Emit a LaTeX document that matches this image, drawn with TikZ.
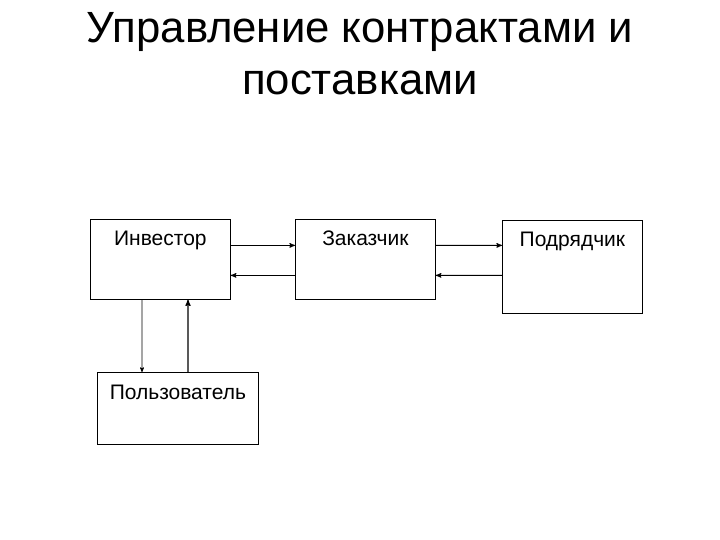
\documentclass[tikz,border=0pt]{standalone}
\usepackage{fontspec}
\setmainfont{Liberation Sans}
\usetikzlibrary{arrows}

\begin{document}
\begin{tikzpicture}[x=1bp,y=-1bp,>=stealth',
    box/.style={draw,line width=0.8pt,inner sep=0pt,anchor=north west,
      minimum width=140bp,text height=26bp,font=\fontsize{21bp}{24bp}\selectfont},
    link/.style={->,line width=1pt}]
  \useasboundingbox (0,0) rectangle (720,540);

  % title
  \node[anchor=north,inner sep=0pt,align=center,
    font=\fontsize{43.7bp}{52bp}\selectfont] (title) at (360,12)
    {Управление контрактами и\\поставками};

  % participants
  \node[box,text depth=54bp] (inv) at (90,219) {Инвестор};
  \node[box,text depth=54bp] (zak) at (295,219) {Заказчик};
  \node[box,text depth=67bp] (pod) at (502,220) {Подрядчик};
  \node[box,text depth=45bp,text height=27bp,minimum width=161bp] (pol) at (97,372) {Пользователь};

  % links
  \draw[link] ([yshift=14bp]inv.east) -- ([yshift=14bp]zak.west);
  \draw[link] ([yshift=-16bp]zak.west) -- ([yshift=-16bp]inv.east);
  \draw[link] ([yshift=14bp]zak.east) -- ([yshift=21.5bp]pod.west);
  \draw[link] ([yshift=-8.5bp]pod.west) -- ([yshift=-16bp]zak.east);
  \draw[link,line width=0.7pt] ([xshift=52bp]inv.south west) -- ([xshift=45bp]pol.north west);
  \draw[link,line width=1.2pt] ([xshift=91bp]pol.north west) -- ([xshift=98bp]inv.south west);
\end{tikzpicture}
\end{document}
